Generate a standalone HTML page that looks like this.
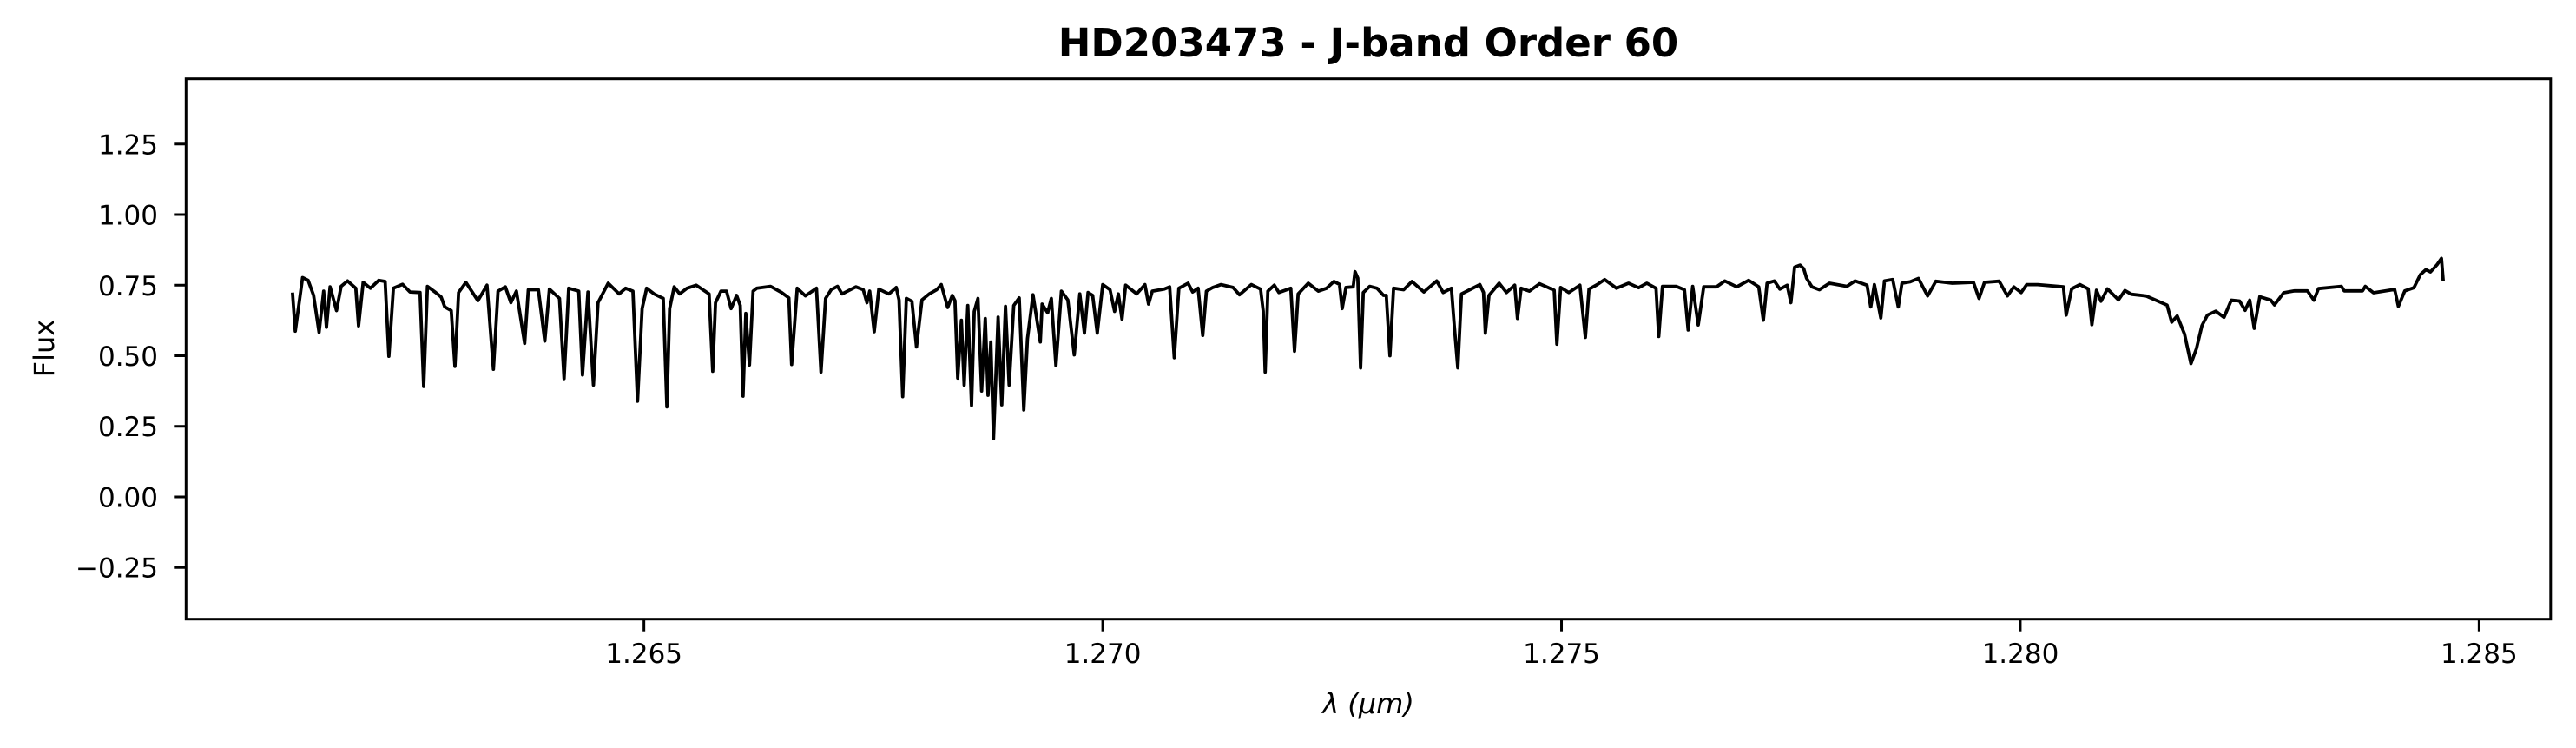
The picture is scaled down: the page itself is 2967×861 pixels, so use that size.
<!DOCTYPE html>
<html><head><meta charset="utf-8"><title>HD203473 - J-band Order 60</title>
<style>
html,body{margin:0;padding:0;background:#fff;}
svg{display:block;font-family:"DejaVu Sans","Liberation Sans",sans-serif;}
</style></head>
<body>
<svg id="chart" width="2967" height="861" viewBox="0 0 2967 861" xmlns="http://www.w3.org/2000/svg">
<rect x="0" y="0" width="2967" height="861" fill="#fff"/>
<text x="1576" y="65" text-anchor="middle" font-size="45" font-weight="bold">HD203473 - J-band Order 60</text>
<g id="yticks"></g>
<g id="xticks"></g>
<path id="spec" fill="none" stroke="#000" stroke-width="3.8" stroke-linejoin="round"/>
<rect x="214.3" y="90.7" width="2723.5" height="622" fill="none" stroke="#000" stroke-width="3"/>
<text x="1576" y="821" text-anchor="middle" font-size="32" font-style="italic">λ (μm)</text>
<text transform="translate(62,401) rotate(-90)" text-anchor="middle" font-size="32">Flux</text>
</svg>
<script>
const yTickValues = [-0.25, 0, 0.25, 0.5, 0.75, 1.0, 1.25];
const yTickLabels = ["\u22120.25", "0.00", "0.25", "0.50", "0.75", "1.00", "1.25"];
const xTickValues = [1.265, 1.270, 1.275, 1.280, 1.285];
const xTickLabels = ["1.265", "1.270", "1.275", "1.280", "1.285"];
const wavelength = [1.26117,1.26120,1.26128,1.26134,1.26140,1.26146,1.26151,1.26154,1.26158,1.26165,1.26170,1.26177,1.26186,1.26189,1.26194,1.26202,1.26211,1.26218,1.26222,1.26227,1.26237,1.26245,1.26256,1.26260,1.26264,1.26273,1.26279,1.26283,1.26290,1.26294,1.26298,1.26306,1.26319,1.26329,1.26336,1.26341,1.26349,1.26355,1.26361,1.26370,1.26374,1.26385,1.26392,1.26397,1.26408,1.26413,1.26418,1.26429,1.26433,1.26439,1.26445,1.26450,1.26461,1.26473,1.26480,1.26488,1.26493,1.26498,1.26503,1.26511,1.26521,1.26525,1.26528,1.26533,1.26539,1.26547,1.26557,1.26571,1.26575,1.26578,1.26584,1.26590,1.26595,1.26601,1.26605,1.26608,1.26611,1.26615,1.26619,1.26623,1.26638,1.26650,1.26658,1.26661,1.26667,1.26676,1.26688,1.26693,1.26698,1.26704,1.26711,1.26716,1.26731,1.26739,1.26743,1.26746,1.26751,1.26756,1.26767,1.26775,1.26778,1.26782,1.26786,1.26792,1.26797,1.26803,1.26811,1.26819,1.26824,1.26831,1.26836,1.26839,1.26842,1.26846,1.26849,1.26853,1.26857,1.26860,1.26864,1.26868,1.26872,1.26875,1.26878,1.26881,1.26886,1.26890,1.26894,1.26898,1.26903,1.26909,1.26914,1.26918,1.26924,1.26932,1.26934,1.26940,1.26944,1.26949,1.26955,1.26962,1.26969,1.26975,1.26980,1.26984,1.26989,1.26994,1.27000,1.27008,1.27013,1.27017,1.27021,1.27025,1.27037,1.27046,1.27050,1.27054,1.27067,1.27073,1.27078,1.27083,1.27093,1.27098,1.27104,1.27109,1.27113,1.27120,1.27129,1.27142,1.27149,1.27162,1.27172,1.27175,1.27177,1.27180,1.27187,1.27192,1.27205,1.27209,1.27213,1.27224,1.27235,1.27244,1.27252,1.27258,1.27261,1.27265,1.27273,1.27275,1.27278,1.27281,1.27284,1.27291,1.27299,1.27306,1.27309,1.27313,1.27317,1.27328,1.27337,1.27350,1.27364,1.27371,1.27380,1.27383,1.27387,1.27391,1.27400,1.27411,1.27415,1.27417,1.27421,1.27432,1.27440,1.27449,1.27452,1.27456,1.27465,1.27476,1.27492,1.27495,1.27499,1.27508,1.27520,1.27526,1.27530,1.27539,1.27547,1.27560,1.27573,1.27584,1.27593,1.27603,1.27606,1.27610,1.27625,1.27634,1.27638,1.27643,1.27649,1.27655,1.27669,1.27678,1.27691,1.27704,1.27715,1.27720,1.27724,1.27732,1.27738,1.27746,1.27750,1.27754,1.27760,1.27764,1.27767,1.27773,1.27781,1.27792,1.27811,1.27820,1.27833,1.27837,1.27841,1.27848,1.27852,1.27861,1.27867,1.27871,1.27880,1.27889,1.27899,1.27908,1.27926,1.27949,1.27955,1.27961,1.27977,1.27986,1.27993,1.28001,1.28007,1.28019,1.28047,1.28050,1.28056,1.28065,1.28074,1.28078,1.28083,1.28088,1.28095,1.28107,1.28114,1.28121,1.28137,1.28146,1.28160,1.28165,1.28171,1.28179,1.28186,1.28192,1.28198,1.28204,1.28213,1.28222,1.28230,1.28239,1.28245,1.28250,1.28255,1.28261,1.28273,1.28277,1.28287,1.28299,1.28313,1.28320,1.28325,1.28350,1.28353,1.28373,1.28376,1.28385,1.28408,1.28412,1.28419,1.28429,1.28436,1.28442,1.28447,1.28454,1.28459,1.28461];
const flux = [0.724,0.587,0.777,0.767,0.714,0.583,0.729,0.601,0.744,0.660,0.746,0.765,0.739,0.606,0.760,0.739,0.767,0.763,0.498,0.739,0.753,0.726,0.724,0.391,0.746,0.724,0.708,0.673,0.660,0.462,0.724,0.760,0.695,0.750,0.452,0.729,0.744,0.688,0.729,0.544,0.734,0.734,0.552,0.736,0.703,0.419,0.739,0.729,0.432,0.726,0.396,0.688,0.757,0.719,0.739,0.729,0.339,0.667,0.739,0.719,0.703,0.319,0.667,0.744,0.719,0.739,0.750,0.719,0.445,0.688,0.729,0.729,0.667,0.714,0.678,0.357,0.650,0.467,0.729,0.739,0.746,0.724,0.705,0.469,0.739,0.712,0.739,0.442,0.703,0.734,0.746,0.719,0.744,0.734,0.688,0.729,0.585,0.736,0.719,0.742,0.698,0.355,0.703,0.693,0.531,0.698,0.719,0.734,0.752,0.671,0.714,0.695,0.421,0.626,0.396,0.678,0.324,0.657,0.703,0.375,0.632,0.360,0.549,0.206,0.637,0.326,0.675,0.396,0.678,0.705,0.308,0.560,0.716,0.549,0.683,0.652,0.703,0.465,0.729,0.698,0.503,0.719,0.580,0.724,0.714,0.580,0.752,0.734,0.657,0.719,0.630,0.750,0.719,0.752,0.683,0.729,0.736,0.744,0.493,0.739,0.757,0.726,0.739,0.572,0.729,0.742,0.752,0.742,0.716,0.752,0.736,0.657,0.442,0.729,0.750,0.724,0.739,0.516,0.719,0.757,0.729,0.739,0.763,0.753,0.667,0.742,0.744,0.798,0.775,0.457,0.724,0.746,0.739,0.714,0.714,0.500,0.739,0.734,0.763,0.726,0.765,0.724,0.739,0.611,0.457,0.719,0.734,0.752,0.724,0.580,0.714,0.757,0.724,0.750,0.632,0.739,0.729,0.755,0.732,0.541,0.742,0.724,0.750,0.565,0.736,0.752,0.770,0.739,0.757,0.741,0.757,0.739,0.568,0.746,0.746,0.734,0.591,0.746,0.609,0.744,0.744,0.765,0.744,0.767,0.744,0.626,0.757,0.765,0.736,0.750,0.688,0.814,0.821,0.808,0.775,0.744,0.734,0.757,0.746,0.765,0.750,0.673,0.752,0.634,0.765,0.770,0.673,0.757,0.762,0.774,0.712,0.764,0.757,0.760,0.703,0.760,0.764,0.712,0.744,0.724,0.752,0.752,0.744,0.644,0.737,0.752,0.737,0.610,0.732,0.693,0.737,0.698,0.731,0.718,0.712,0.699,0.679,0.619,0.641,0.577,0.472,0.526,0.607,0.644,0.658,0.636,0.697,0.694,0.661,0.697,0.597,0.709,0.697,0.680,0.723,0.730,0.730,0.697,0.738,0.746,0.730,0.730,0.746,0.723,0.735,0.675,0.730,0.741,0.787,0.805,0.797,0.822,0.845,0.764];

const X0 = 214.3, X1 = 2937.8, Y0 = 90.7, Y1 = 712.7;
const XMIN = 1.26001, XMAX = 1.28578, YMIN = -0.433, YMAX = 1.481;
function sx(v){ return X0 + (v - XMIN) / (XMAX - XMIN) * (X1 - X0); }
function sy(v){ return Y1 - (v - YMIN) / (YMAX - YMIN) * (Y1 - Y0); }
const NS = "http://www.w3.org/2000/svg";

const yg = document.getElementById('yticks');
yTickValues.forEach((v, i) => {
  const y = sy(v);
  const t = document.createElementNS(NS, 'line');
  t.setAttribute('x1', X0 - 14); t.setAttribute('x2', X0);
  t.setAttribute('y1', y); t.setAttribute('y2', y);
  t.setAttribute('stroke', '#000'); t.setAttribute('stroke-width', '3');
  
  
  yg.appendChild(t);
  const l = document.createElementNS(NS, 'text');
  l.setAttribute('x', 182); l.setAttribute('y', y + 11.5);
  l.setAttribute('text-anchor', 'end'); l.setAttribute('font-size', '31');
  l.textContent = yTickLabels[i];
  
  
  yg.appendChild(l);
});

const xg = document.getElementById('xticks');
xTickValues.forEach((v, i) => {
  const x = sx(v);
  const t = document.createElementNS(NS, 'line');
  t.setAttribute('x1', x); t.setAttribute('x2', x);
  t.setAttribute('y1', Y1); t.setAttribute('y2', Y1 + 14);
  t.setAttribute('stroke', '#000'); t.setAttribute('stroke-width', '3');
  
  
  xg.appendChild(t);
  const l = document.createElementNS(NS, 'text');
  l.setAttribute('x', x); l.setAttribute('y', 763);
  l.setAttribute('text-anchor', 'middle'); l.setAttribute('font-size', '31');
  l.textContent = xTickLabels[i];
  
  
  xg.appendChild(l);
});

let d = '';
for (let i = 0; i < wavelength.length; i++) {
  d += (i ? 'L' : 'M') + sx(wavelength[i]).toFixed(1) + ',' + sy(flux[i]).toFixed(1);
}
document.getElementById('spec').setAttribute('d', d);
</script>
</body></html>
